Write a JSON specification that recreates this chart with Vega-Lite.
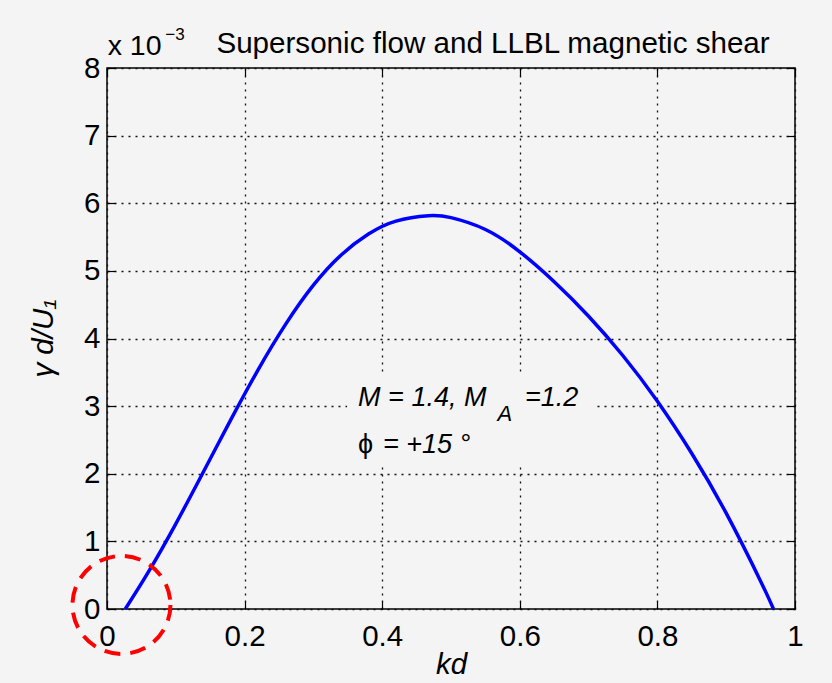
{
  "$schema": "https://vega.github.io/schema/vega-lite/v6.json",
  "width": 688,
  "height": 541,
  "autosize": {"type": "none"},
  "padding": {"left": 107, "top": 68, "right": 37, "bottom": 74},
  "background": "#f4f4f4",
  "config": {
    "font": "Liberation Sans",
    "view": {"stroke": "#000000", "strokeWidth": 1.5, "fill": "#f4f4f4"},
    "axis": {
      "domain": false,
      "tickColor": "#000000",
      "tickSize": -8,
      "tickWidth": 1.2,
      "labelFont": "Liberation Sans",
      "labelFontSize": 29.5,
      "labelColor": "#000000",
      "gridColor": "#111111",
      "gridDash": [2, 5],
      "gridWidth": 1.3,
      "gridOpacity": 1,
      "titleFont": "Liberation Sans",
      "titleFontSize": 29.5,
      "titleFontWeight": "normal",
      "titleFontStyle": "italic",
      "titleColor": "#000000"
    }
  },
  "datasets": {
    "curve": [
      {"kd": 0.0266, "gamma": 0.0},
      {"kd": 0.06, "gamma": 0.544},
      {"kd": 0.1, "gamma": 1.26},
      {"kd": 0.14, "gamma": 2.026},
      {"kd": 0.18, "gamma": 2.8},
      {"kd": 0.22, "gamma": 3.544},
      {"kd": 0.26, "gamma": 4.216},
      {"kd": 0.3, "gamma": 4.788},
      {"kd": 0.34, "gamma": 5.232},
      {"kd": 0.38, "gamma": 5.544},
      {"kd": 0.42, "gamma": 5.736},
      {"kd": 0.467, "gamma": 5.816},
      {"kd": 0.5, "gamma": 5.787},
      {"kd": 0.55, "gamma": 5.612},
      {"kd": 0.6, "gamma": 5.282},
      {"kd": 0.65, "gamma": 4.84},
      {"kd": 0.7, "gamma": 4.33},
      {"kd": 0.75, "gamma": 3.745},
      {"kd": 0.8, "gamma": 3.072},
      {"kd": 0.85, "gamma": 2.3},
      {"kd": 0.9, "gamma": 1.417},
      {"kd": 0.95, "gamma": 0.412},
      {"kd": 0.9687, "gamma": 0.0}
    ]
  },
  "layer": [
    {
      "data": {"name": "curve"},
      "mark": {"type": "line", "color": "#0000ff", "strokeWidth": 3.5, "interpolate": "natural"},
      "encoding": {
        "x": {
          "field": "kd", "type": "quantitative",
          "scale": {"domain": [0, 1], "nice": false, "zero": false},
          "axis": {"orient": "bottom", "values": [0, 0.2, 0.4, 0.6, 0.8, 1], "format": "~g", "labelPadding": 21, "title": "kd", "titleY": 64, "titleBaseline": "alphabetic", "labelFlush": false}
        },
        "y": {
          "field": "gamma", "type": "quantitative",
          "scale": {"domain": [0, 8], "nice": false},
          "axis": {"orient": "left", "values": [0, 1, 2, 3, 4, 5, 6, 7, 8], "labelPadding": 15, "title": "γ d/U₁", "titleX": -55, "titleY": 270, "titleAngle": -90, "titleBaseline": "alphabetic", "labelFlush": false}
        }
      }
    },
    {
      "data": {"name": "curve"},
      "mark": {"type": "line", "opacity": 0},
      "encoding": {
        "x": {"field": "kd", "type": "quantitative", "axis": {"orient": "top", "values": [0, 0.2, 0.4, 0.6, 0.8, 1], "labels": false, "grid": false, "title": null}},
        "y": {"field": "gamma", "type": "quantitative", "axis": {"orient": "right", "values": [0, 1, 2, 3, 4, 5, 6, 7, 8], "labels": false, "grid": false, "title": null}}
      }
    },
    {
      "data": {"values": [{"box": "annotation background"}]},
      "mark": {"type": "rect", "fill": "#f4f4f4", "stroke": null},
      "encoding": {
        "x": {"datum": 0.349, "type": "quantitative", "axis": null},
        "x2": {"datum": 0.712},
        "y": {"datum": 2.11, "type": "quantitative", "axis": null},
        "y2": {"datum": 3.5}
      }
    },
    {
      "data": {"values": [{"t": "Supersonic flow and LLBL magnetic shear"}]},
      "mark": {"type": "text", "align": "left", "baseline": "alphabetic", "fontSize": 29.6, "color": "#000000"},
      "encoding": {
        "x": {"datum": 0.159, "type": "quantitative", "axis": null},
        "y": {"datum": 8.22, "type": "quantitative", "axis": null},
        "text": {"field": "t"}
      }
    },
    {
      "data": {"values": [{"t": "x 10"}]},
      "mark": {"type": "text", "align": "left", "baseline": "alphabetic", "fontSize": 28.5, "color": "#000000"},
      "encoding": {
        "x": {"datum": 0.001, "type": "quantitative", "axis": null},
        "y": {"datum": 8.19, "type": "quantitative", "axis": null},
        "text": {"field": "t"}
      }
    },
    {
      "data": {"values": [{"t": "−3"}]},
      "mark": {"type": "text", "align": "left", "baseline": "alphabetic", "fontSize": 17, "color": "#000000"},
      "encoding": {
        "x": {"datum": 0.0847, "type": "quantitative", "axis": null},
        "y": {"datum": 8.42, "type": "quantitative", "axis": null},
        "text": {"field": "t"}
      }
    },
    {
      "data": {"values": [{"t": "M = 1.4, M"}]},
      "mark": {"type": "text", "align": "left", "baseline": "alphabetic", "fontSize": 27, "fontStyle": "italic", "color": "#000000"},
      "encoding": {
        "x": {"datum": 0.365, "type": "quantitative", "axis": null},
        "y": {"datum": 3.0, "type": "quantitative", "axis": null},
        "text": {"field": "t"}
      }
    },
    {
      "data": {"values": [{"t": "A"}]},
      "mark": {"type": "text", "align": "left", "baseline": "alphabetic", "fontSize": 22, "fontStyle": "italic", "color": "#000000"},
      "encoding": {
        "x": {"datum": 0.5675, "type": "quantitative", "axis": null},
        "y": {"datum": 2.785, "type": "quantitative", "axis": null},
        "text": {"field": "t"}
      }
    },
    {
      "data": {"values": [{"t": "=1.2"}]},
      "mark": {"type": "text", "align": "left", "baseline": "alphabetic", "fontSize": 27, "fontStyle": "italic", "color": "#000000"},
      "encoding": {
        "x": {"datum": 0.6075, "type": "quantitative", "axis": null},
        "y": {"datum": 3.0, "type": "quantitative", "axis": null},
        "text": {"field": "t"}
      }
    },
    {
      "data": {"values": [{"t": "ϕ"}]},
      "mark": {"type": "text", "align": "left", "baseline": "alphabetic", "fontSize": 27, "color": "#000000"},
      "encoding": {
        "x": {"datum": 0.365, "type": "quantitative", "axis": null},
        "y": {"datum": 2.3, "type": "quantitative", "axis": null},
        "text": {"field": "t"}
      }
    },
    {
      "data": {"values": [{"t": "= +15 °"}]},
      "mark": {"type": "text", "align": "left", "baseline": "alphabetic", "fontSize": 27, "fontStyle": "italic", "color": "#000000"},
      "encoding": {
        "x": {"datum": 0.401, "type": "quantitative", "axis": null},
        "y": {"datum": 2.3, "type": "quantitative", "axis": null},
        "text": {"field": "t"}
      }
    },
    {
      "data": {"values": [{"note": "highlight"}]},
      "mark": {"type": "point", "shape": "circle", "size": 9600, "filled": false, "stroke": "#ff0000", "strokeWidth": 4, "strokeDash": [16, 10], "opacity": 1},
      "encoding": {
        "x": {"datum": 0.021, "type": "quantitative", "axis": null},
        "y": {"datum": 0.06, "type": "quantitative", "axis": null}
      }
    }
  ],
  "resolve": {"axis": {"x": "independent", "y": "independent"}}
}
